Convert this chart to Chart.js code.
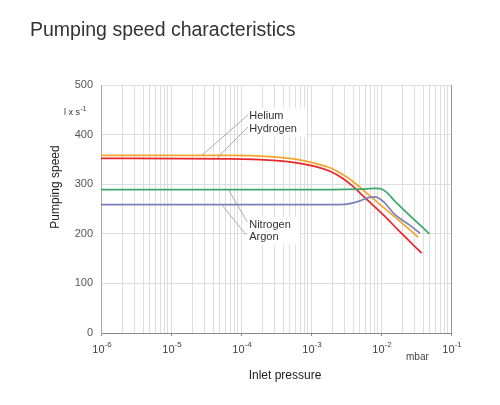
<!DOCTYPE html>
<html>
<head>
<meta charset="utf-8">
<script src="https://cdn.jsdelivr.net/npm/chart.js@4/dist/chart.umd.min.js"></script>
<style>
  html, body { margin: 0; padding: 0; background: #fff; }
  canvas { display: block; }
</style>
</head>
<body>
<canvas id="chart" width="500" height="405"></canvas>
<script>
// Pumping speed (l/s) against inlet pressure (mbar)
const heliumP   = [1e-6, 7e-5, 2.89e-4, 6.25e-4, 1.21e-3, 1.87e-3, 2.89e-3, 4.02e-3, 5e-3, 6.25e-3, 9.7e-3, 1.87e-2, 3.41e-2];
const heliumS   = [358, 358, 355, 350, 341, 333, 319, 305, 294, 282, 259, 225, 193];
const hydrogenP = [1e-6, 7e-5, 2.89e-4, 6.25e-4, 1.21e-3, 1.87e-3, 2.89e-3, 4.02e-3, 5.58e-3, 1.08e-2, 1.87e-2, 3.81e-2];
const hydrogenS = [352, 351, 348, 343, 335, 326, 311, 295, 276, 238, 204, 161];
const nitrogenP = [1e-6, 2e-3, 5e-3, 8e-3, 9.7e-3, 1.17e-2, 1.6e-2, 4.9e-2];
const nitrogenS = [289, 289, 290, 291.5, 291, 285, 265, 200];
const argonP    = [1e-6, 2.5e-3, 3.6e-3, 5e-3, 6.8e-3, 8.2e-3, 1.08e-2, 1.6e-2, 2.6e-2, 3.61e-2];
const argonS    = [259, 259, 261, 266.5, 273.5, 274.5, 265, 238, 217, 201];

const gasNames  = ['Helium', 'Hydrogen', 'Nitrogen', 'Argon'];
const xDecades  = [1e-6, 1e-5, 1e-4, 1e-3, 1e-2, 1e-1];
const xExps     = ['-6', '-5', '-4', '-3', '-2', '-1'];
const yTicks    = [0, 100, 200, 300, 400, 500];

// label anchors in data units: text left/centre, and leader line from -> to
const labelSpots = [
  { x: 1.31e-4, y: 438, from: [1.27e-4, 440], to: [2.75e-5, 358] },
  { x: 1.31e-4, y: 411, from: [1.27e-4, 416], to: [4.5e-5, 352] },
  { x: 1.31e-4, y: 218, from: [1.23e-4, 224], to: [6.6e-5, 289] },
  { x: 1.31e-4, y: 194, from: [1.18e-4, 198], to: [5.3e-5, 259] }
];

const FONT = "'Liberation Sans', Arial, Helvetica, sans-serif";
Chart.defaults.font.family = FONT;

const pts = (xs, ys) => xs.map((p, i) => ({ x: p, y: ys[i] }));
const line = (label, data, color) => ({
  label, data, borderColor: color, backgroundColor: color,
  borderWidth: 1.7, pointRadius: 0, cubicInterpolationMode: 'monotone'
});

const isDecade = v => Math.abs(Math.log10(v) - Math.round(Math.log10(v))) < 1e-6;

const overlay = {
  id: 'overlay',
  afterDraw(chart) {
    const { ctx, scales: { x, y } } = chart;
    ctx.save();

    // title
    ctx.fillStyle = '#333';
    ctx.font = `19.5px ${FONT}`;
    ctx.textBaseline = 'middle';
    ctx.textAlign = 'left';
    ctx.fillText('Pumping speed characteristics', 30, 31);

    // x tick labels with superscript exponents
    xDecades.forEach((d, i) => {
      const px = x.getPixelForValue(d);
      ctx.font = `11px ${FONT}`;
      const wb = ctx.measureText('10').width;
      ctx.font = `8px ${FONT}`;
      const ws = ctx.measureText(xExps[i]).width;
      const start = px + 1 - (wb + ws) / 2;
      ctx.fillStyle = '#444';
      ctx.textBaseline = 'alphabetic';
      ctx.font = `11px ${FONT}`;
      ctx.fillText('10', start, 353);
      ctx.font = `8px ${FONT}`;
      ctx.fillText(xExps[i], start + wb, 347);
    });
    ctx.font = `10px ${FONT}`;
    ctx.fillText('mbar', 406, 360);

    // axis titles
    ctx.fillStyle = '#222';
    ctx.font = `12px ${FONT}`;
    ctx.textAlign = 'center';
    ctx.textBaseline = 'middle';
    ctx.fillText('Inlet pressure', 285, 376);
    ctx.save();
    ctx.translate(56, 187);
    ctx.rotate(-Math.PI / 2);
    ctx.fillText('Pumping speed', 0, 0);
    ctx.restore();

    // unit  l x s-1
    ctx.textAlign = 'left';
    ctx.textBaseline = 'alphabetic';
    ctx.fillStyle = '#333';
    ctx.font = `9px ${FONT}`;
    ctx.fillText('l x s', 64, 115);
    const wu = ctx.measureText('l x s').width;
    ctx.font = `6.5px ${FONT}`;
    ctx.fillText('-1', 64 + wu + 0.5, 111);

    // gas labels: leader lines, white boxes, text
    ctx.strokeStyle = '#999';
    ctx.lineWidth = 0.8;
    labelSpots.forEach(s => {
      ctx.beginPath();
      ctx.moveTo(x.getPixelForValue(s.from[0]), y.getPixelForValue(s.from[1]));
      ctx.lineTo(x.getPixelForValue(s.to[0]), y.getPixelForValue(s.to[1]));
      ctx.stroke();
    });
    ctx.font = `11px ${FONT}`;
    ctx.textBaseline = 'middle';
    [[0, 1], [2, 3]].forEach(pair => {
      const a = labelSpots[pair[0]], b = labelSpots[pair[1]];
      const lx = x.getPixelForValue(a.x);
      const w = Math.max(...pair.map(k => ctx.measureText(gasNames[k]).width));
      const top = y.getPixelForValue(a.y) - 8;
      const bot = y.getPixelForValue(b.y) + 8;
      ctx.fillStyle = '#fff';
      ctx.fillRect(lx - 1, top, w + 10, bot - top);
    });
    ctx.fillStyle = '#333';
    labelSpots.forEach((s, i) => {
      ctx.fillText(gasNames[i], x.getPixelForValue(s.x), y.getPixelForValue(s.y));
    });

    ctx.restore();
  }
};

new Chart(document.getElementById('chart'), {
  type: 'line',
  data: {
    datasets: [
      line('Nitrogen', pts(nitrogenP, nitrogenS), '#3ea56b'),
      line('Argon', pts(argonP, argonS), '#7b7fba'),
      line('Helium', pts(heliumP, heliumS), '#f7a42a'),
      line('Hydrogen', pts(hydrogenP, hydrogenS), '#e8262c')
    ]
  },
  options: {
    responsive: false,
    animation: false,
    layout: { padding: { left: 0, right: 49, top: 85, bottom: 0 } },
    plugins: { legend: { display: false }, tooltip: { enabled: false } },
    scales: {
      x: {
        type: 'logarithmic',
        min: xDecades[0],
        max: xDecades[xDecades.length - 1],
        afterBuildTicks(scale) {
          const t = [];
          for (let e = -6; e < -1; e++) {
            for (let m = 1; m < 10; m++) t.push({ value: m * Math.pow(10, e) });
          }
          t.push({ value: xDecades[xDecades.length - 1] });
          scale.ticks = t;
        },
        afterFit(scale) { scale.height = 72; },
        ticks: { display: false },
        grid: {
          color: c => (c.tick && Math.abs(c.tick.value - 0.1) < 1e-9) ? '#999' : '#dedede',
          lineWidth: 1,
          drawTicks: true,
          tickLength: 3,
          tickColor: c => (c.tick && isDecade(c.tick.value)) ? '#888' : 'rgba(0,0,0,0)'
        },
        border: { display: true, color: '#888', width: 1 }
      },
      y: {
        min: 0,
        max: 500,
        afterBuildTicks(scale) { scale.ticks = yTicks.map(v => ({ value: v })); },
        afterFit(scale) { scale.width = 101; },
        ticks: { font: { size: 11 }, color: '#555', padding: 8 },
        grid: { color: '#dedede', drawTicks: false },
        border: { display: true, color: '#aaa', width: 1 }
      }
    }
  },
  plugins: [overlay]
});
</script>
</body>
</html>
